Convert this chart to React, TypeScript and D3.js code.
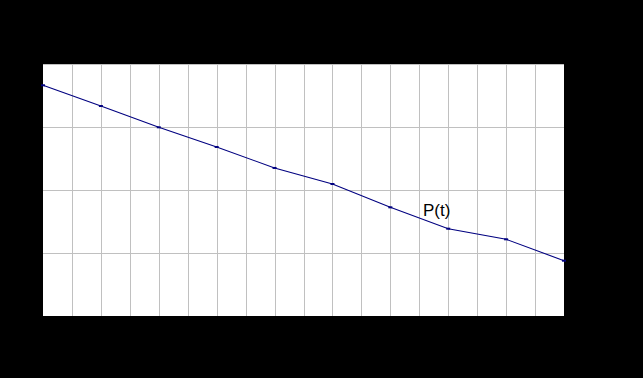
import React from "react";
import * as d3 from "d3";

const tValues = [0, 1, 2, 3, 4, 5, 6, 7, 8, 9];
const pValues = [3.662, 3.333, 2.995, 2.683, 2.35, 2.095, 1.725, 1.386, 1.217, 0.878];
const xGridTicks = d3.range(0, 9.01, 0.5);
const yGridTicks = [0, 1, 2, 3, 4];
const seriesLabel = "P(t)";

export default function App() {
  const W = 643, H = 378;
  const x = d3.scaleLinear().domain([0, 9]).range([43, 564]);
  const y = d3.scaleLinear().domain([0, 4]).range([316, 64]);
  const line = d3.line<number>().x((_, i) => x(tValues[i])).y((d) => y(d));
  return (
    <svg width={W} height={H} style={{ position: "absolute", left: 0, top: 0, background: "#000" }}>
      <rect x={0} y={0} width={W} height={H} fill="#000" />
      <rect x={x(0)} y={y(4)} width={x(9) - x(0)} height={y(0) - y(4)} fill="#fff" />
      {xGridTicks.slice(1, -1).map((t) => (
        <line key={"gx" + t} x1={Math.round(x(t)) + 0.5} x2={Math.round(x(t)) + 0.5} y1={y(4)} y2={y(0)} stroke="#c0c0c0" strokeWidth={1} />
      ))}
      {yGridTicks.slice(1).map((t) => (
        <line key={"gy" + t} x1={x(0)} x2={x(9)} y1={Math.round(y(t)) + 0.5} y2={Math.round(y(t)) + 0.5} stroke="#c0c0c0" strokeWidth={1} />
      ))}
      <path d={line(pValues) || ""} fill="none" stroke="#000080" strokeWidth={1.1} />
      {pValues.map((v, i) => (
        <rect key={"m" + i} x={x(tValues[i]) - 2} y={y(v) - 1} width={4} height={2} fill="#000080" />
      ))}
      <text x={423} y={215.5} fontFamily="Liberation Sans, Arial, sans-serif" fontSize={17} fill="#000">
        {seriesLabel}
      </text>
    </svg>
  );
}
